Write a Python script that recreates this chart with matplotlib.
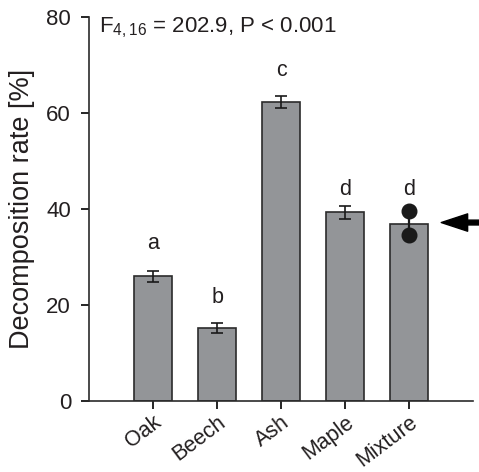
import matplotlib
matplotlib.use("Agg")
import matplotlib.pyplot as plt

plt.rcParams['font.family'] = ['Liberation Sans', 'DejaVu Sans']
plt.rcParams['mathtext.fontset'] = 'custom'
plt.rcParams['mathtext.rm'] = 'Liberation Sans'
plt.rcParams['mathtext.it'] = 'Liberation Sans'

species = ["Oak", "Beech", "Ash", "Maple", "Mixture"]
decomp_mean = [26.0, 15.2, 62.3, 39.3, 37.0]
decomp_se = [1.2, 1.0, 1.3, 1.4, 0.0]
group_letters = ["a", "b", "c", "d", "d"]
letter_y = [31.7, 20.4, 67.7, 42.9, 42.9]
mixture_points = [39.6, 34.6]
arrow_y = 37.2

txt = "#231f20"
fig = plt.figure(figsize=(4.79, 4.72), dpi=100)
ax = fig.add_axes([0.186, 0.150, 0.802, 0.814])

x = list(range(len(species)))
ax.bar(x, decomp_mean, width=0.6, color="#939598", edgecolor="#2b2b2b",
       linewidth=1.2, zorder=2)
ax.errorbar(x[:4], decomp_mean[:4], yerr=decomp_se[:4], fmt='none',
            ecolor="#1a1a1a", elinewidth=1.2, capsize=4.5, capthick=1.2, zorder=3)
ax.plot([x[4], x[4]], mixture_points, color="#1a1a1a", lw=1.6,
        marker='o', markersize=10.5, zorder=4)

for xi, lab, ly in zip(x, group_letters, letter_y):
    ax.text(xi, ly, lab, ha='center', va='baseline', fontsize=15.5, color=txt)

ax.annotate('', xy=(4.5, arrow_y), xytext=(5.6, arrow_y),
            arrowprops=dict(facecolor='black', edgecolor='black', width=3.5,
                            headwidth=12.5, headlength=19, shrink=0),
            annotation_clip=False)

ax.text(0.025, 0.972, r'F$_{4,16}$ = 202.9, P < 0.001', transform=ax.transAxes,
        fontsize=16, va='center', ha='left', color=txt)

ax.set_xlim(-1, 5)
ax.set_ylim(0, 80)
ax.set_yticks([0, 20, 40, 60, 80])
ax.set_xticks(x)
ax.set_xticklabels(species, rotation=37, ha='right', rotation_mode='anchor',
                   fontsize=15.5, color=txt)
ax.tick_params(axis='y', labelsize=16, labelcolor=txt, length=6, width=1.2,
               direction='out', pad=7)
ax.tick_params(axis='x', length=6, width=1.2, direction='out', pad=1.5)
for s in ['top', 'right']:
    ax.spines[s].set_visible(False)
for s in ['left', 'bottom']:
    ax.spines[s].set_linewidth(1.2)
    ax.spines[s].set_color("#2b2b2b")

ax.set_ylabel("Decomposition rate [%]", fontsize=19.5, color=txt, labelpad=8)

fig.savefig("out.png", dpi=100)
